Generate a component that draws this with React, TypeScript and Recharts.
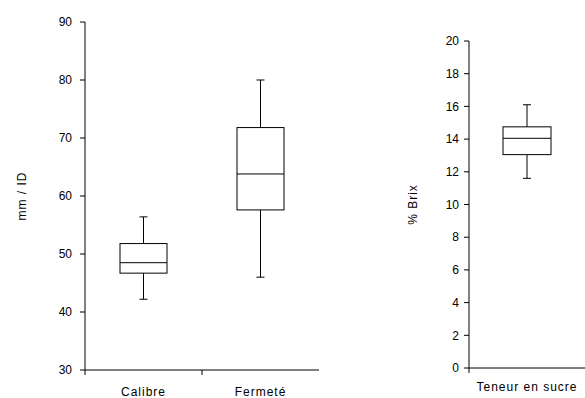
import { ComposedChart, Bar, XAxis, YAxis } from "recharts";

const FONT = "'Liberation Sans', Arial, sans-serif";
const INK = "#000";

// left panel: Calibre / Fermeté (mm / ID)
const leftCategories = ["Calibre", "Fermeté"];
const leftMin = [42.2, 46.0];
const leftQ1 = [46.7, 57.6];
const leftMedian = [48.5, 63.8];
const leftQ3 = [51.8, 71.8];
const leftMax = [56.4, 80.0];
const leftTicks = [30, 40, 50, 60, 70, 80, 90];

// right panel: Teneur en sucre (% Brix)
const rightCategories = ["Teneur en sucre"];
const rightMin = [11.6];
const rightQ1 = [13.05];
const rightMedian = [14.05];
const rightQ3 = [14.75];
const rightMax = [16.1];
const rightTicks = [0, 2, 4, 6, 8, 10, 12, 14, 16, 18, 20];

type BoxRow = {
    name: string
    min: number
    q1: number
    median: number
    q3: number
    max: number
    range: [number, number]
}

function buildRows(names: string[], mins: number[], q1s: number[], meds: number[], q3s: number[], maxs: number[]): BoxRow[] {
    return names.map((name, i) => ({
        name,
        min: mins[i],
        q1: q1s[i],
        median: meds[i],
        q3: q3s[i],
        max: maxs[i],
        range: [mins[i], maxs[i]],
    }))
}

const leftRows = buildRows(leftCategories, leftMin, leftQ1, leftMedian, leftQ3, leftMax)
const rightRows = buildRows(rightCategories, rightMin, rightQ1, rightMedian, rightQ3, rightMax)

function BoxShape(props: any) {
    const { x, y, width, height, payload } = props
    if (x == null || y == null || !payload) return null
    const top = Math.min(y, y + height)
    const bottom = Math.max(y, y + height)
    const span = payload.max - payload.min
    const py = (v: number) => top + ((payload.max - v) / span) * (bottom - top)
    const cx = x + width / 2
    const cap = 4
    return (
        <g stroke={INK} strokeWidth={1} fill="none">
            <line x1={cx} x2={cx} y1={py(payload.max)} y2={py(payload.q3)} />
            <line x1={cx} x2={cx} y1={py(payload.q1)} y2={py(payload.min)} />
            <line x1={cx - cap} x2={cx + cap} y1={py(payload.max)} y2={py(payload.max)} />
            <line x1={cx - cap} x2={cx + cap} y1={py(payload.min)} y2={py(payload.min)} />
            <rect x={x} y={py(payload.q3)} width={width} height={py(payload.q1) - py(payload.q3)} fill="#fff" />
            <line x1={x} x2={x + width} y1={py(payload.median)} y2={py(payload.median)} />
        </g>
    )
}

function makeCategoryTick(gap: number) {
    return function CategoryTick(props: any) {
        const { x, y, payload } = props
        const half = payload?.offset ?? 0
        const axisY = y - gap
        return (
            <g>
                <line x1={x - half} x2={x - half} y1={axisY} y2={axisY + 5} stroke={INK} />
                <text x={x} y={y} dy="0.71em" textAnchor="middle" fill={INK} fontSize={12} fontFamily={FONT} letterSpacing={1}>
                    {payload.value}
                </text>
            </g>
        )
    }
}

const tickStyle = { fill: INK, fontSize: 12, fontFamily: FONT }

export default function App() {
    return (
        <div style={{ position: "absolute", left: 0, top: 0, width: 585, height: 398, background: "#fff" }}>
            <div style={{ position: "absolute", left: 0, top: 0 }}>
                <ComposedChart width={330} height={398} data={leftRows} margin={{ top: 22, right: 11, left: 0, bottom: 0 }}>
                    <XAxis
                        dataKey="name"
                        height={28}
                        axisLine={{ stroke: INK }}
                        tickLine={false}
                        tickSize={5}
                        tickMargin={12}
                        tick={makeCategoryTick(17)}
                        interval={0}
                    />
                    <YAxis
                        type="number"
                        domain={[30, 90]}
                        ticks={leftTicks}
                        width={85}
                        axisLine={{ stroke: INK }}
                        tickLine={{ stroke: INK }}
                        tickSize={5}
                        tickMargin={8}
                        tick={tickStyle}
                        label={{ value: "mm / ID", angle: -90, position: "insideLeft", offset: 22, fill: INK, fontSize: 12, fontFamily: FONT, letterSpacing: 1, style: { textAnchor: "middle" } }}
                    />
                    <Bar dataKey="range" barSize={47} shape={(p: any) => <BoxShape {...p} />} isAnimationActive={false} />
                </ComposedChart>
            </div>
            <div style={{ position: "absolute", left: 380, top: 0 }}>
                <ComposedChart width={205} height={398} data={rightRows} margin={{ top: 41, right: 0, left: 0, bottom: 0 }}>
                    <XAxis
                        dataKey="name"
                        height={30}
                        axisLine={{ stroke: INK }}
                        tickLine={false}
                        tickSize={5}
                        tickMargin={9}
                        tick={makeCategoryTick(14)}
                        interval={0}
                    />
                    <YAxis
                        type="number"
                        domain={[0, 20]}
                        ticks={rightTicks}
                        width={89}
                        axisLine={{ stroke: INK }}
                        tickLine={{ stroke: INK }}
                        tickSize={5}
                        tickMargin={5}
                        tick={tickStyle}
                        label={{ value: "% Brix", angle: -90, position: "insideLeft", offset: 33, fill: INK, fontSize: 12, fontFamily: FONT, letterSpacing: 1, style: { textAnchor: "middle" } }}
                    />
                    <Bar dataKey="range" barSize={48} shape={(p: any) => <BoxShape {...p} />} isAnimationActive={false} />
                </ComposedChart>
            </div>
        </div>
    )
}
